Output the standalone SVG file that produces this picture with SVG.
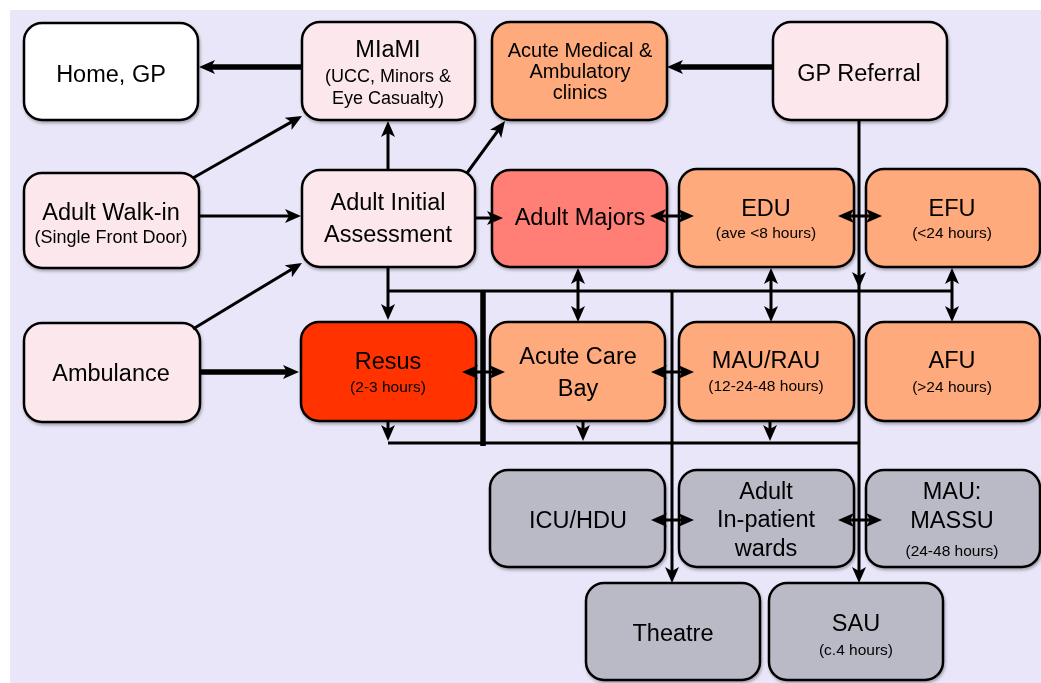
<svg xmlns="http://www.w3.org/2000/svg" width="1041" height="683" viewBox="0 0 1041 683">
<style>
.n{stroke:#000;stroke-width:2.5}
.pk{fill:#FCE8EC}
.wh{fill:#FFFFFF}
.or{fill:#FFAA7C}
.mj{fill:#FF7E74}
.rs{fill:#FF3300}
.gr{fill:#B9BAC6}
text{font-family:"Liberation Sans",Arial,sans-serif;fill:#000;text-anchor:middle}
.t{font-size:23.5px}
.t20{font-size:20px}
.m18{font-size:18px}
.s{font-size:15.5px}
.c{fill:none;stroke:#000;stroke-width:3}
.k{stroke-width:5.5}
.a{marker-end:url(#ah)}
.b{marker-start:url(#ah);marker-end:url(#ah)}
</style>
<defs>
<marker id="ah" viewBox="0 0 16 14" refX="6" refY="7" markerWidth="16" markerHeight="14" markerUnits="userSpaceOnUse" orient="auto-start-reverse">
<path d="M0,0 L16,7 L0,14 L4,7 z" fill="#000"/>
</marker>
<filter id="sh" x="-10%" y="-10%" width="125%" height="130%">
<feDropShadow dx="1" dy="2" stdDeviation="1.5" flood-color="#000" flood-opacity="0.3"/>
</filter>
</defs>
<rect x="10" y="10" width="1031" height="673" fill="#E8E6F8"/>

<g id="home" filter="url(#sh)"><rect class="n wh" x="24" y="23" width="174" height="97" rx="18"/><text class="t" x="111" y="82">Home, GP</text></g>
<g id="miami" filter="url(#sh)"><rect class="n pk" x="302" y="22" width="173" height="98" rx="18"/><text class="t" x="388" y="57">MIaMI</text><text class="m18" x="388" y="82">(UCC, Minors &amp;</text><text class="m18" x="388" y="104">Eye Casualty)</text></g>
<g id="acute-medical" filter="url(#sh)"><rect class="n or" x="492" y="22" width="175" height="98" rx="18"/><text class="t20" x="580" y="57">Acute Medical &amp;</text><text class="t20" x="580" y="78">Ambulatory</text><text class="t20" x="580" y="99">clinics</text></g>
<g id="gp-referral" filter="url(#sh)"><rect class="n pk" x="773" y="22" width="174" height="98" rx="18"/><text class="t" x="859" y="81">GP Referral</text></g>

<g id="walk-in" filter="url(#sh)"><rect class="n pk" x="24" y="173" width="175" height="95" rx="18"/><text class="t" x="111" y="220">Adult Walk-in</text><text class="m18" x="111" y="243">(Single Front Door)</text></g>
<g id="initial" filter="url(#sh)"><rect class="n pk" x="302" y="170" width="173" height="97" rx="18"/><text class="t" x="388" y="210">Adult Initial</text><text class="t" x="388" y="242">Assessment</text></g>
<g id="majors" filter="url(#sh)"><rect class="n mj" x="492" y="170" width="175" height="97" rx="18"/><text class="t" x="580" y="225">Adult Majors</text></g>
<g id="edu" filter="url(#sh)"><rect class="n or" x="679" y="169" width="175" height="98" rx="18"/><text class="t" x="766" y="216">EDU</text><text class="s" x="766" y="238">(ave &lt;8 hours)</text></g>
<g id="efu" filter="url(#sh)"><rect class="n or" x="866" y="169" width="174" height="98" rx="18"/><text class="t" x="952" y="216">EFU</text><text class="s" x="952" y="238">(&lt;24 hours)</text></g>

<g id="ambulance" filter="url(#sh)"><rect class="n pk" x="24" y="323" width="176" height="99" rx="18"/><text class="t" x="111" y="381">Ambulance</text></g>
<g id="resus" filter="url(#sh)"><rect class="n rs" x="301" y="322" width="175" height="99" rx="18"/><text class="t" x="388" y="369">Resus</text><text class="s" x="388" y="392">(2-3 hours)</text></g>
<g id="acute-care" filter="url(#sh)"><rect class="n or" x="490" y="322" width="175" height="99" rx="18"/><text class="t" x="578" y="364">Acute Care</text><text class="t" x="578" y="396">Bay</text></g>
<g id="mau-rau" filter="url(#sh)"><rect class="n or" x="679" y="322" width="175" height="99" rx="18"/><text class="t" x="766" y="368">MAU/RAU</text><text class="s" x="766" y="391">(12-24-48 hours)</text></g>
<g id="afu" filter="url(#sh)"><rect class="n or" x="866" y="322" width="174" height="99" rx="18"/><text class="t" x="952" y="368">AFU</text><text class="s" x="952" y="392">(&gt;24 hours)</text></g>

<g id="icu" filter="url(#sh)"><rect class="n gr" x="490" y="470" width="175" height="97" rx="18"/><text class="t" x="578" y="528">ICU/HDU</text></g>
<g id="inpatient" filter="url(#sh)"><rect class="n gr" x="679" y="470" width="175" height="97" rx="18"/><text class="t" x="766" y="499">Adult</text><text class="t" x="766" y="527">In-patient</text><text class="t" x="766" y="556">wards</text></g>
<g id="massu" filter="url(#sh)"><rect class="n gr" x="866" y="470" width="174" height="97" rx="18"/><text class="t" x="952" y="499">MAU:</text><text class="t" x="952" y="528">MASSU</text><text class="s" x="952" y="556">(24-48 hours)</text></g>

<g id="theatre" filter="url(#sh)"><rect class="n gr" x="586" y="583" width="174" height="97" rx="18"/><text class="t" x="673" y="641">Theatre</text></g>
<g id="sau" filter="url(#sh)"><rect class="n gr" x="769" y="583" width="174" height="97" rx="18"/><text class="t" x="856" y="631">SAU</text><text class="s" x="856" y="655">(c.4 hours)</text></g>

<g id="connectors">
<path class="c k a" d="M302,67 H209"/>
<path class="c k a" d="M773,67 H677"/>
<path class="c a" d="M193,178 L293.3,120.9"/>
<path class="c a" d="M199,216 H291"/>
<path class="c a" d="M193,329 L293.4,268.2"/>
<path class="c k a" d="M200,372 H289"/>
<path class="c a" d="M388,170 V131"/>
<path class="c a" d="M467,173 L499.1,129.1"/>
<path class="c a" d="M475,218 H493"/>
<path class="c b" d="M660,216 H684"/>
<path class="c b" d="M848,216 H872"/>
<path class="c a" d="M859,121 V278"/>
<path class="c a" d="M859,278 V573"/>
<path class="c" d="M388,291 H952"/>
<path class="c a" d="M388,268 V310"/>
<path class="c k" d="M483,291 V446"/>
<path class="c" d="M388,443 H859"/>
<path class="c a" d="M388,422 V431"/>
<path class="c a" d="M583,422 V431"/>
<path class="c a" d="M770,422 V431"/>
<path class="c b" d="M578,278 V312"/>
<path class="c b" d="M771,278 V312"/>
<path class="c b" d="M952,278 V312"/>
<path class="c b" d="M472,372 H495"/>
<path class="c b" d="M661,372 H684"/>
<path class="c a" d="M672,291 V573"/>
<path class="c b" d="M661,520 H684"/>
<path class="c b" d="M848,520 H872"/>
</g>
</svg>
